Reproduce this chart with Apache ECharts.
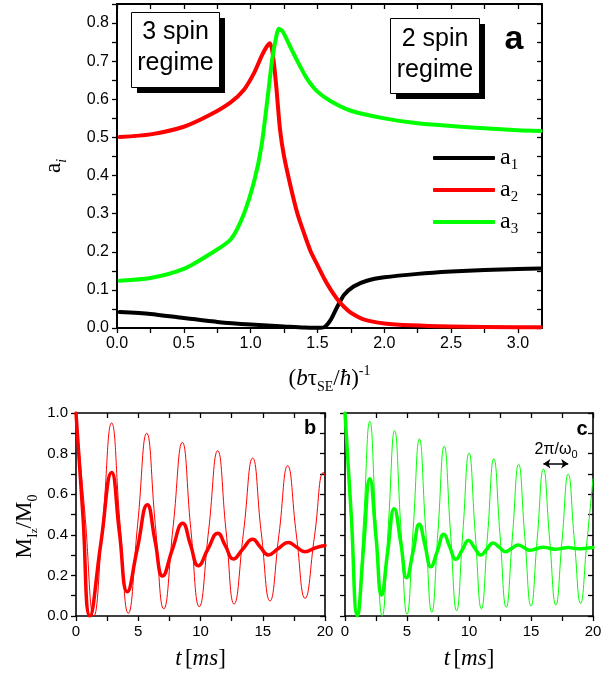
<!DOCTYPE html>
<html><head><meta charset="utf-8">
<script src="https://cdn.jsdelivr.net/npm/echarts@6/dist/echarts.min.js"></script>
<style>html,body{margin:0;padding:0;background:#fff}#c{width:611px;height:675px}</style>
</head><body><div id="c"></div>
<script>
// ---------- Panel a : amplitudes a_i vs (b tau_SE / hbar)^-1 ----------
const a1Curve = [[0.02,0.042],[0.25,0.037],[0.5,0.026],[0.75,0.016],[1.0,0.009],[1.25,0.004],[1.4,0.001],[1.5,0.0005],[1.55,0.002],[1.6,0.022],[1.65,0.057],[1.7,0.087],[1.77,0.109],[1.87,0.124],[2.0,0.133],[2.25,0.142],[2.5,0.148],[2.75,0.152],[3.0,0.155],[3.17,0.156]];
const a2Curve = [[0.02,0.501],[0.25,0.508],[0.5,0.528],[0.7,0.56],[0.85,0.592],[0.95,0.625],[1.03,0.672],[1.08,0.712],[1.12,0.738],[1.145,0.747],[1.165,0.72],[1.19,0.64],[1.22,0.52],[1.25,0.45],[1.3,0.37],[1.35,0.3],[1.4,0.248],[1.45,0.2],[1.5,0.165],[1.55,0.13],[1.6,0.1],[1.65,0.075],[1.7,0.055],[1.75,0.04],[1.85,0.022],[2.0,0.012],[2.2,0.007],[2.5,0.004],[3.0,0.002],[3.17,0.002]];
const a3Curve = [[0.02,0.124],[0.25,0.131],[0.5,0.155],[0.7,0.195],[0.85,0.232],[0.95,0.3],[1.03,0.39],[1.08,0.475],[1.125,0.598],[1.16,0.702],[1.19,0.762],[1.21,0.785],[1.24,0.778],[1.3,0.735],[1.35,0.7],[1.42,0.655],[1.5,0.62],[1.6,0.595],[1.75,0.57],[2.0,0.55],[2.25,0.537],[2.5,0.53],[2.75,0.524],[3.0,0.519],[3.17,0.517]];
const aXTicks = [0,0.25,0.5,0.75,1.0,1.25,1.5,1.75,2.0,2.25,2.5,2.75,3.0];
const aXLabels = [0,0.5,1.0,1.5,2.0,2.5,3.0];
const aYTicks = [0,0.05,0.1,0.15,0.2,0.25,0.3,0.35,0.4,0.45,0.5,0.55,0.6,0.65,0.7,0.75,0.8,0.85];
const aYLabels = [0,0.1,0.2,0.3,0.4,0.5,0.6,0.7,0.8];
const legendNames = ['a1','a2','a3'];

// ---------- Panel b (red) ----------
const bThin = [[0,1.0],[0.72,0.5],[1.43,0.0],[2.15,0.46],[2.86,0.951],[3.53,0.46],[4.2,0.013],[4.95,0.45],[5.68,0.90],[6.37,0.45],[7.05,0.035],[7.8,0.44],[8.54,0.855],[9.22,0.43],[9.9,0.046],[10.65,0.42],[11.38,0.814],[12.05,0.42],[12.7,0.059],[13.45,0.41],[14.19,0.778],[14.88,0.41],[15.58,0.074],[16.3,0.40],[17.0,0.74],[17.7,0.40],[18.4,0.087],[19.15,0.39],[19.87,0.707],[20,0.69]];
const bThick = [[0,1.0],[0.55,0.5],[1.12,0.0],[2.0,0.36],[2.86,0.707],[3.49,0.41],[4.12,0.12],[4.92,0.33],[5.73,0.548],[6.35,0.37],[6.96,0.197],[7.75,0.33],[8.57,0.457],[9.2,0.35],[9.83,0.248],[10.6,0.33],[11.38,0.408],[12.0,0.345],[12.64,0.281],[13.4,0.33],[14.19,0.378],[14.8,0.34],[15.45,0.301],[16.25,0.332],[17.05,0.362],[17.7,0.34],[18.39,0.317],[19.2,0.335],[20,0.347]];

// ---------- Panel c (green) ----------
const cThin = [[0,1.0],[0.5,0.5],[1,0],[1.5,0.47],[2,0.959],[2.5,0.45],[3,0.0],[3.5,0.45],[4,0.913],[4.5,0.44],[5,0.008],[5.5,0.43],[6,0.873],[6.5,0.43],[7,0.018],[7.5,0.42],[8,0.837],[8.5,0.42],[9,0.026],[9.5,0.41],[10,0.803],[10.5,0.41],[11,0.035],[11.5,0.40],[12,0.775],[12.5,0.40],[13,0.043],[13.5,0.39],[14,0.748],[14.5,0.39],[15,0.049],[15.5,0.38],[16,0.724],[16.5,0.38],[17,0.054],[17.5,0.37],[18,0.699],[18.5,0.37],[19,0.062],[19.5,0.36],[20,0.676]];
const cThick = [[0,1.0],[0.5,0.5],[1,0],[1.5,0.34],[2,0.676],[2.5,0.39],[2.95,0.104],[3.45,0.32],[3.97,0.528],[4.5,0.36],[4.97,0.189],[5.5,0.32],[5.99,0.452],[6.45,0.35],[6.93,0.243],[7.45,0.32],[7.97,0.403],[8.45,0.34],[8.94,0.28],[9.45,0.325],[9.96,0.372],[10.45,0.336],[10.95,0.301],[11.45,0.33],[11.95,0.359],[12.45,0.338],[12.94,0.317],[13.45,0.333],[13.96,0.35],[14.45,0.337],[14.9,0.324],[15.45,0.331],[15.97,0.339],[16.45,0.334],[16.97,0.329],[17.45,0.333],[17.99,0.337],[18.45,0.334],[18.9,0.331],[19.45,0.334],[20,0.337]];
const tTicks = [0,2.5,5,7.5,10,12.5,15,17.5,20];
const tLabels = [0,5,10,15,20];
const mYTicks = [0,0.1,0.2,0.3,0.4,0.5,0.6,0.7,0.8,0.9,1.0];
const mYLabels = [0,0.2,0.4,0.6,0.8,1.0];
const periodArrow = {from: 16, to: 18, level: 0.75};

const SANS = '"Liberation Sans", Arial, sans-serif';
const SERIF = '"Liberation Serif", "Times New Roman", serif';

function xAx(grid, min, max, ticks, labels, fmt, pos, showLab, fs, lw, extra) {
  return Object.assign({
    type: 'value', gridIndex: grid, min: min, max: max, position: pos,
    axisLine: {show: true, onZero: false, lineStyle: {color: '#000', width: lw}},
    axisTick: {show: true, inside: pos === 'top' || pos === 'right', length: 5, customValues: ticks, lineStyle: {color: '#000', width: 1.3}},
    axisLabel: {show: showLab, customValues: labels, formatter: fmt, color: '#000', fontFamily: SANS, fontSize: fs, margin: 8},
    splitLine: {show: false}
  }, extra || {});
}
const f1 = v => v.toFixed(1);
const f0 = v => String(Math.round(v));

const titleRich = {
  p: {fontFamily: SERIF, fontSize: 23, color: '#000', lineHeight: 30},
  i: {fontFamily: SERIF, fontSize: 23, fontStyle: 'italic', color: '#000', lineHeight: 30},
  s: {fontFamily: SERIF, fontSize: 14, color: '#000', lineHeight: 14, verticalAlign: 'bottom'},
  si: {fontFamily: SERIF, fontSize: 14, fontStyle: 'italic', color: '#000', lineHeight: 14, verticalAlign: 'bottom'},
  ss: {fontFamily: SERIF, fontSize: 11, color: '#000', lineHeight: 8, verticalAlign: 'bottom'},
  u: {fontFamily: SERIF, fontSize: 14, color: '#000', lineHeight: 14, verticalAlign: 'top'}
};

const xAxes = [
  xAx(0, 0, 3.18, aXTicks, aXLabels, f1, 'bottom', true, 16, 2, {
    name: '{p|(}{i|b}{p|τ}{s|SE}{p|/}{i|ħ}{p|)}{u|-1}', nameLocation: 'middle', nameGap: 36,
    nameTextStyle: {rich: titleRich}}),
  xAx(0, 0, 3.18, aXTicks, aXLabels, f1, 'top', false, 16, 2),
  xAx(1, 0, 20, tTicks, tLabels, f0, 'bottom', true, 15, 1.6, {
    name: '{i|t} {p|[}{i|ms}{p|]}', nameLocation: 'middle', nameGap: 28, nameTextStyle: {rich: titleRich}}),
  xAx(1, 0, 20, tTicks, tLabels, f0, 'top', false, 15, 1.6),
  xAx(2, 0, 20, tTicks, tLabels, f0, 'bottom', true, 15, 1.6, {
    name: '{i|t} {p|[}{i|ms}{p|]}', nameLocation: 'middle', nameGap: 28, nameTextStyle: {rich: titleRich}}),
  xAx(2, 0, 20, tTicks, tLabels, f0, 'top', false, 15, 1.6)
];
const yAxes = [
  xAx(0, 0, 0.85, aYTicks, aYLabels, f1, 'left', true, 16, 2, {
    name: '{p|a}{si|i}', nameLocation: 'middle', nameGap: 48, nameRotate: 90, nameTextStyle: {rich: titleRich}}),
  xAx(0, 0, 0.85, aYTicks, aYLabels, f1, 'right', false, 16, 2),
  xAx(1, 0, 1, mYTicks, mYLabels, f1, 'left', true, 15, 1.6, {
    name: '{p|M}{s|I}{ss|z}{p|/M}{s|0}', nameLocation: 'middle', nameGap: 36, nameRotate: 90,
    nameTextStyle: {rich: titleRich, padding: [0, 24, 0, 0]}}),
  xAx(1, 0, 1, mYTicks, mYLabels, f1, 'right', false, 15, 1.6),
  xAx(2, 0, 1, mYTicks, mYLabels, f1, 'left', false, 15, 1.6),
  xAx(2, 0, 1, mYTicks, mYLabels, f1, 'right', false, 15, 1.6)
];

function ser(name, data, color, width, xi, yi, smooth, extra) {
  return Object.assign({
    name: name, type: 'line', data: data, xAxisIndex: xi, yAxisIndex: yi,
    symbol: 'none', showSymbol: false, smooth: smooth,
    lineStyle: {color: color, width: width, cap: 'round', join: 'round'},
    itemStyle: {color: color}, silent: true, animation: false
  }, extra || {});
}

const option = {
  backgroundColor: '#fff',
  animation: false,
  grid: [
    {left: 117, top: 4, width: 425, height: 324},
    {left: 76, top: 413, width: 249, height: 203},
    {left: 345, top: 413, width: 248, height: 203}
  ],
  xAxis: xAxes,
  yAxis: yAxes,
  legend: {
    data: legendNames, orient: 'vertical', left: 428, top: 141,
    itemWidth: 62, itemHeight: 4, itemGap: 5, icon: 'roundRect', selectedMode: false,
    formatter: n => '{m|a}{s|' + n.slice(1) + '}',
    textStyle: {color: '#000', rich: {
      m: {fontFamily: SERIF, fontSize: 24, lineHeight: 30, color: '#000'},
      s: {fontFamily: SERIF, fontSize: 15, lineHeight: 15, verticalAlign: 'bottom', color: '#000'}
    }}
  },
  series: [
    ser('a1', a1Curve, '#000000', 4, 0, 0, 0.25),
    ser('a2', a2Curve, '#ff0000', 4, 0, 0, 0.25),
    ser('a3', a3Curve, '#00ff00', 4, 0, 0, 0.25),
    ser('bThin', bThin, '#ff0000', 1, 2, 2, 0.5),
    ser('bThick', bThick, '#ff0000', 3.5, 2, 2, 0.5),
    ser('cThin', cThin, '#00ff00', 1, 4, 4, 0.5, {
      markLine: {silent: true, symbol: ['arrow', 'arrow'], symbolSize: [7, 7],
        label: {show: false}, lineStyle: {color: '#000', width: 1.5, type: 'solid'},
        data: [[{coord: [periodArrow.from, periodArrow.level]}, {coord: [periodArrow.to, periodArrow.level]}]]}}),
    ser('cThick', cThick, '#00ff00', 3.5, 4, 4, 0.5)
  ],
  graphic: [
    {type: 'rect', shape: {x: 137, y: 18, width: 88, height: 75}, style: {fill: '#000'}, z: 100},
    {type: 'rect', shape: {x: 131.5, y: 12.5, width: 88, height: 75}, style: {fill: '#fff', stroke: '#000', lineWidth: 1}, z: 101},
    {type: 'text', x: 175.5, y: 32, z: 102, style: {text: '3 spin', font: '25px ' + SANS, fill: '#000', align: 'center', verticalAlign: 'middle'}},
    {type: 'text', x: 175.5, y: 63, z: 102, style: {text: 'regime', font: '25px ' + SANS, fill: '#000', align: 'center', verticalAlign: 'middle'}},
    {type: 'rect', shape: {x: 396, y: 24, width: 89, height: 75}, style: {fill: '#000'}, z: 100},
    {type: 'rect', shape: {x: 390.5, y: 18.5, width: 89, height: 75}, style: {fill: '#fff', stroke: '#000', lineWidth: 1}, z: 101},
    {type: 'text', x: 435, y: 39, z: 102, style: {text: '2 spin', font: '25px ' + SANS, fill: '#000', align: 'center', verticalAlign: 'middle'}},
    {type: 'text', x: 435, y: 70, z: 102, style: {text: 'regime', font: '25px ' + SANS, fill: '#000', align: 'center', verticalAlign: 'middle'}},
    {type: 'text', x: 514, y: 40, z: 102, style: {text: 'a', font: 'bold 34px ' + SANS, fill: '#000', align: 'center', verticalAlign: 'middle'}},
    {type: 'text', x: 310, y: 428, z: 102, style: {text: 'b', font: 'bold 20px ' + SANS, fill: '#000', align: 'center', verticalAlign: 'middle'}},
    {type: 'text', x: 582, y: 429, z: 102, style: {text: 'c', font: 'bold 20px ' + SANS, fill: '#000', align: 'center', verticalAlign: 'middle'}},
    {type: 'text', x: 556, y: 450, z: 102, style: {text: '{m|2π/ω}{s|0}', align: 'center', verticalAlign: 'middle',
      rich: {m: {fontFamily: SANS, fontSize: 16, lineHeight: 20, fill: '#000', color: '#000'},
             s: {fontFamily: SANS, fontSize: 11, lineHeight: 11, verticalAlign: 'bottom', fill: '#000', color: '#000'}}}}
  ]
};
const chart = echarts.init(document.getElementById('c'));
chart.setOption(option);
</script></body></html>
